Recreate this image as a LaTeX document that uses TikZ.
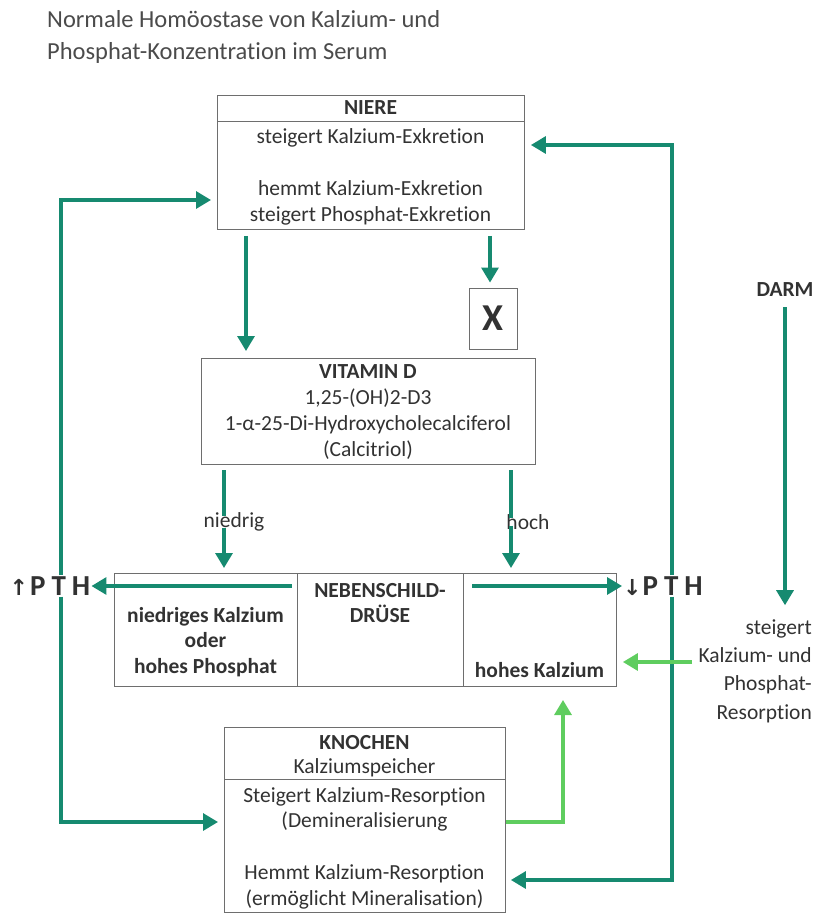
\documentclass[tikz,border=0pt]{standalone}
\usepackage{fontspec}
\setmainfont[Ligatures=NoCommon]{Carlito}
\newfontfamily\dejavu{DejaVu Sans}
\usetikzlibrary{arrows.meta}
\definecolor{tealg}{RGB}{22,138,112}
\definecolor{lightg}{RGB}{95,205,95}
\definecolor{txt}{RGB}{50,50,50}
\definecolor{titlec}{RGB}{75,75,75}
\definecolor{boxc}{RGB}{110,110,110}
\begin{document}
\begin{tikzpicture}[x=1pt,y=-1pt,
 box/.style={draw=boxc, line width=0.9pt, inner sep=0pt, anchor=north west},
 txtn/.style={text=txt, font=\fontsize{21.5}{25.8}\selectfont, align=center, inner sep=0pt},
 bld/.style={txtn, font=\fontsize{21.5}{25.8}\selectfont\bfseries},
 pth/.style={text=txt, font=\fontsize{29}{32}\selectfont\bfseries, inner sep=1pt},
 tarrow/.style={draw=tealg, line width=3.2pt, -{Triangle[width=17pt,length=15pt]}},
 tline/.style={draw=tealg, line width=3.2pt},
 garrow/.style={draw=lightg, line width=3.2pt, -{Triangle[width=17pt,length=15pt]}},
 sep/.style={draw=boxc, line width=0.9pt}
]
\useasboundingbox (0,0) rectangle (816,915);
% title
\node[anchor=west, text=titlec, font=\fontsize{24.5}{32}\selectfont, align=left, inner sep=0pt] (title) at (47,37) {Normale Homöostase von Kalzium- und\\Phosphat-Konzentration im Serum};

% NIERE
\node[box, minimum width=307pt, minimum height=134pt] (niere) at (217,95) {};
\draw[sep] (217,121) -- (524,121);
\node[bld] (niereT) at (370.5,108) {NIERE};
\node[txtn] (niereL) at (370.5,177) {steigert Kalzium-Exkretion\\\mbox{}\\hemmt Kalzium-Exkretion\\steigert Phosphat-Exkretion};

% X
\node[box, anchor=center, minimum width=48pt, minimum height=61pt, text=txt, font=\fontsize{38}{40}\selectfont\bfseries] (xbox) at (493,318.5) {X};

% VITAMIN D
\node[box, minimum width=334pt, minimum height=106pt] (vit) at (201,358) {};
\node[txtn] (vitT) at (368,412) {\textbf{VITAMIN D}\\1,25-(OH)2-D3\\1-α-25-Di-Hydroxycholecalciferol\\(Calcitriol)};

% NEBENSCHILDDRUESE
\node[box, minimum width=502pt, minimum height=113pt] (neben) at (114,573) {};
\draw[sep] (297,573) -- (297,686);
\draw[sep] (463,573) -- (463,686);
\node[bld] (nebenT) at (380,603) {NEBENSCHILD-\\DRÜSE};
\node[bld] (nebenL) at (205.5,642) {niedriges Kalzium\\oder\\hohes Phosphat};
\node[bld] (nebenR) at (539.5,670) {hohes Kalzium};

% KNOCHEN
\node[box, minimum width=281pt, minimum height=185pt] (knochen) at (224,727) {};
\draw[sep] (224,779) -- (505,779);
\node[bld] (knoT) at (364.5,743) {KNOCHEN};
\node[txtn] (knoS) at (364.5,768) {Kalziumspeicher};
\node[txtn] (knoL) at (364.5,848) {Steigert Kalzium-Resorption\\(Demineralisierung\\\mbox{}\\Hemmt Kalzium-Resorption\\(ermöglicht Mineralisation)};

% PTH labels
\node[pth] (ptha) at (50,586) {{\dejavu\bfseries\fontsize{22}{24}\selectfont ↑}\hspace{2pt}P\hspace{6pt}T\hspace{6pt}H};
\node[pth] (pthb) at (663,586) {{\dejavu\bfseries\fontsize{22}{24}\selectfont ↓}\hspace{1pt}P\hspace{6pt}T\hspace{6pt}H};

% DARM
\node[bld] (darm) at (785,290) {DARM};
\node[txtn, align=right, anchor=east, font=\fontsize{21.5}{28.3}\selectfont] (resorp) at (812,671) {steigert\\Kalzium- und\\Phosphat-\\Resorption};

% arrows NIERE -> VIT, NIERE -> X
\coordinate (v1) at (246,0);
\draw[tarrow, shorten <=6pt, shorten >=7pt] (niere.south -| v1) -- (vit.north -| v1);
\coordinate (x1) at (490,0);
\draw[tarrow, shorten <=6pt, shorten >=5pt] (niere.south -| x1) -- (xbox.north -| x1);

% niedrig / hoch
\coordinate (nd1) at (224,470);
\coordinate (nd2) at (224,568);
\node[txtn] (niedrig) at (234,522) {niedrig};
\draw[tline] (nd1) -- ([yshift=-4pt]nd1 |- niedrig.north);
\draw[tarrow] ([yshift=4pt]nd1 |- niedrig.south) -- (nd2);
\coordinate (hc1) at (511,470);
\coordinate (hc2) at (511,568);
\node[txtn] (hoch) at (528,522) {hoch};
\draw[tline] (hc1) -- ([yshift=-4pt]hc1 |- hoch.north);
\draw[tarrow] ([yshift=4pt]hc1 |- hoch.south) -- (hc2);

% neben -> PTH
\coordinate (nl) at (292,586);
\coordinate (nr) at (472,586);
\draw[tarrow] (nl) -- (ptha.east);
\draw[tarrow] (nr) -- (pthb.west);

% left loop
\coordinate (lt) at (61,200);
\coordinate (lb) at (61,822);
\draw[tarrow, shorten >=6pt] (ptha.north -| lt) -- (lt) -- (lt -| niere.west);
\draw[tarrow, shorten >=6pt] (ptha.south -| lb) -- (lb) -- (lb -| knochen.west);

% right loop
\coordinate (rt) at (672,145);
\coordinate (rb) at (672,880);
\draw[tarrow, shorten >=6pt] (pthb.north -| rt) -- (rt) -- (rt -| niere.east);
\draw[tarrow, shorten >=5pt] (pthb.south -| rb) -- (rb) -- (rb -| knochen.east);

% DARM arrow
\draw[tarrow, shorten <=10pt, shorten >=14pt] (darm.south) -- (darm.south |- resorp.north);

% light green arrows
\coordinate (g1) at (563,822);
\coordinate (g2) at (563,700);
\draw[garrow] (knochen.east |- g1) -- (g1) -- (g2);
\coordinate (g3) at (692,662);
\draw[garrow, shorten >=6pt] (g3) -- (g3 -| neben.east);
\end{tikzpicture}
\end{document}
